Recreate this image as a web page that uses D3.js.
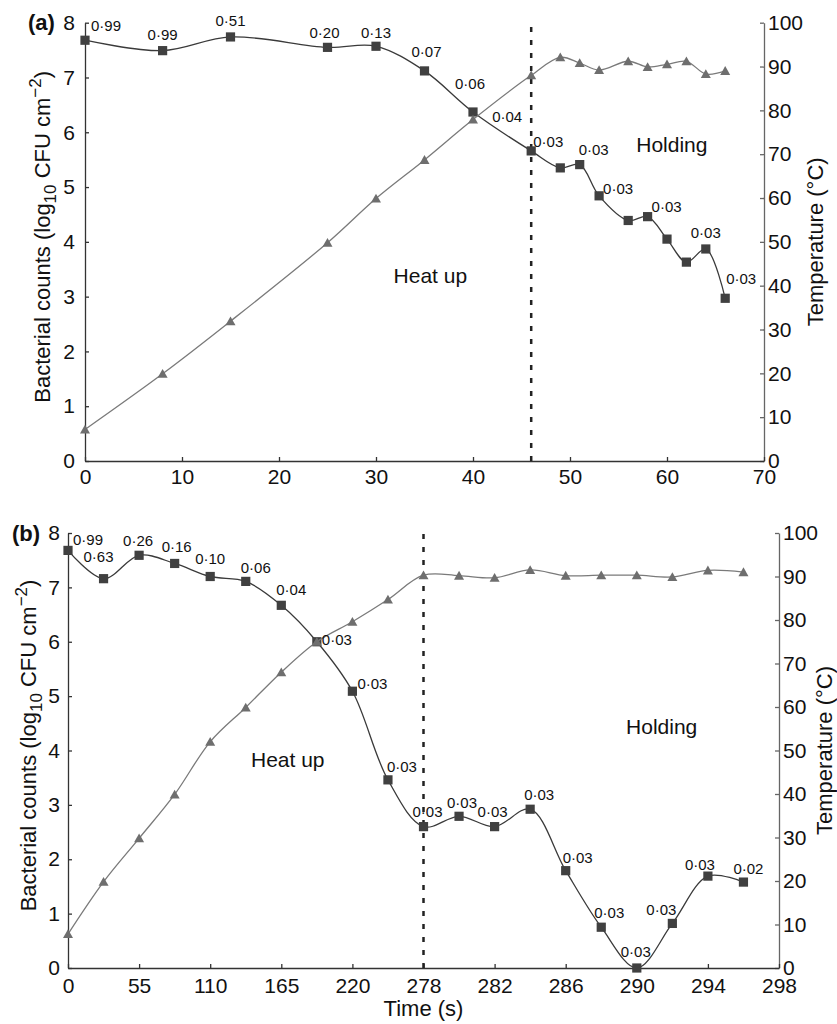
<!DOCTYPE html>
<html>
<head>
<meta charset="utf-8">
<script src="https://cdn.jsdelivr.net/npm/d3@7"></script>
<style>
  body { margin: 0; background: #fff; }
  svg { display: block; font-family: "Liberation Sans", Arial, sans-serif; }
</style>
</head>
<body>
<div id="chart"></div>
<script>
// ---- panel (a) data ----
var timeA = [0, 8, 15, 25, 30, 35, 40, 46, 49, 51, 53, 56, 58, 60, 62, 64, 66];
var countsA = [7.68, 7.49, 7.74, 7.55, 7.57, 7.12, 6.37, 5.66, 5.35, 5.41, 4.84, 4.39, 4.46, 4.05, 3.63, 3.87, 2.97];
var tempA = [7.2, 19.9, 31.9, 49.8, 59.9, 68.7, 77.9, 88.0, 92.1, 90.8, 89.2, 91.2, 89.9, 90.5, 91.2, 88.3, 89.0];
var seA = ["0·99", "0·99", "0·51", "0·20", "0·13", "0·07", "0·06", "0·04", "0·03", "0·03", "0·03", null, "0·03", null, null, "0·03", "0·03"];
var xTicksA = [0, 10, 20, 30, 40, 50, 60, 70];
var holdStartA = 46;

// ---- panel (b) data ----
var timeB = [0, 27.5, 55, 82.5, 110, 137.5, 165, 192.5, 220, 249, 278, 280, 282, 284, 286, 288, 290, 292, 294, 296];
var countsB = [7.68, 7.16, 7.59, 7.44, 7.20, 7.11, 6.67, 6.00, 5.09, 3.46, 2.60, 2.79, 2.60, 2.92, 1.79, 0.75, 0, 0.82, 1.69, 1.58];
var tempB = [7.8, 19.8, 29.8, 39.9, 52.0, 59.9, 68.0, 75.0, 79.6, 84.7, 90.3, 90.2, 89.7, 91.5, 90.2, 90.3, 90.3, 89.9, 91.4, 91.0];
var seB = ["0·99", "0·63", "0·26", "0·16", "0·10", "0·06", "0·04", "0·03", "0·03", "0·03", "0·03", "0·03", "0·03", "0·03", "0·03", "0·03", "0·03", "0·03", "0·03", "0·02"];
var xTicksB = [0, 55, 110, 165, 220, 278, 282, 286, 290, 294, 298];
var holdStartB = 278;

var countTicks = [0, 1, 2, 3, 4, 5, 6, 7, 8];
var tempTicks = [0, 10, 20, 30, 40, 50, 60, 70, 80, 90, 100];

// label offsets (px) from each square, kept apart from the data
var offA = [[21,-14],[0,-16],[0,-16],[-3,-15],[0,-14],[2,-19],[-3,-28],[-24,-34],[-12,-26],[14,-15],[19,-7],null,[19,-10],null,null,[0,-16],[16,-20]];
var offB = [[20,-11],[-5,-22],[-1,-15],[2,-17],[0,-18],[10,-14],[10,-16],[20,-2],[20,-7],[14,-13],[4,-15],[3,-14],[-2,-15],[9,-14],[12,-13],[8,-14],[-1,-16],[-11,-14],[-8,-11],[5,-13]];

var W = 837, H = 1024;

var svg = d3.select("#chart").append("svg")
    .attr("width", W)
    .attr("height", H);

function drawPanel(p) {
    var g = svg.append("g");

    var x = d3.scaleLinear().domain(p.xDomain).range(p.xRange);
    var yL = d3.scaleLinear().domain([0, 8]).range([p.bottom, p.top]);
    var yR = d3.scaleLinear().domain([0, 100]).range([p.bottom, p.top]);

    // axes
    var axL = g.append("g")
        .attr("transform", "translate(" + p.xRange[0] + ",0)")
        .call(d3.axisLeft(yL).tickValues(countTicks).tickSizeInner(-4).tickSizeOuter(0).tickPadding(p.padL));
    var axR = g.append("g")
        .attr("transform", "translate(" + p.xRange[p.xRange.length - 1] + ",0)")
        .call(d3.axisRight(yR).tickValues(tempTicks).tickSizeInner(-4).tickSizeOuter(0).tickPadding(4));
    var axB = g.append("g")
        .attr("transform", "translate(0," + p.bottom + ")")
        .call(d3.axisBottom(x).tickValues(p.xTicks).tickSizeInner(-4).tickSizeOuter(0).tickPadding(p.padB));

    [axL, axR, axB].forEach(function(a) {
        a.attr("font-family", null).attr("font-size", 21);
        a.selectAll("text").attr("fill", "#111");
    });
    axL.selectAll("path,line").attr("stroke", "#333").attr("stroke-width", 1.3);
    axB.selectAll("path,line").attr("stroke", "#333").attr("stroke-width", 1.3);
    axR.selectAll("path,line").attr("stroke", "#666").attr("stroke-width", 1.3);

    // holding start marker
    g.append("line")
        .attr("x1", x(p.holdStart)).attr("x2", x(p.holdStart))
        .attr("y1", p.bottom).attr("y2", p.top - 3)
        .attr("stroke", "#222")
        .attr("stroke-width", 2.5)
        .attr("stroke-dasharray", "5,8");

    var countPts = p.time.map(function(t, i) { return [x(t), yL(p.counts[i])]; });
    var tempPts = p.time.map(function(t, i) { return [x(t), yR(p.temp[i])]; });

    var line = d3.line().curve(d3.curveCatmullRom.alpha(0.5));

    g.append("path")
        .attr("d", line(countPts))
        .attr("fill", "none")
        .attr("stroke", "#3a3a3a")
        .attr("stroke-width", 1.3);

    g.selectAll(".sq").data(countPts).enter().append("rect")
        .attr("class", "sq")
        .attr("x", function(d) { return d[0] - 4.6; })
        .attr("y", function(d) { return d[1] - 4.6; })
        .attr("width", 9.2)
        .attr("height", 9.2)
        .attr("fill", "#404040");

    g.append("path")
        .attr("d", line(tempPts))
        .attr("fill", "none")
        .attr("stroke", "#7a7a7a")
        .attr("stroke-width", 1.3);

    g.selectAll(".tri").data(tempPts).enter().append("path")
        .attr("class", "tri")
        .attr("transform", function(d) { return "translate(" + d[0] + "," + d[1] + ")"; })
        .attr("d", "M0,-4.8L5,4L-5,4Z")
        .attr("fill", "#6e6e6e");

    // standard error labels
    g.selectAll(".se").data(countPts).enter().append("text")
        .attr("class", "se")
        .filter(function(d, i) { return p.se[i] != null; })
        .attr("x", function(d) { var i = countPts.indexOf(d); return d[0] + p.off[i][0]; })
        .attr("y", function(d) { var i = countPts.indexOf(d); return d[1] + p.off[i][1]; })
        .attr("dy", "0.35em")
        .attr("text-anchor", "middle")
        .attr("font-size", 15)
        .attr("fill", "#111")
        .text(function(d) { return p.se[countPts.indexOf(d)]; });

    // phase labels
    g.append("text")
        .attr("x", x(p.heatAt[0])).attr("y", yL(p.heatAt[1]))
        .attr("dy", "0.35em").attr("text-anchor", "middle")
        .attr("font-size", 21).attr("fill", "#111")
        .text("Heat up");
    g.append("text")
        .attr("x", x(p.holdAt[0])).attr("y", yL(p.holdAt[1]))
        .attr("dy", "0.35em").attr("text-anchor", "middle")
        .attr("font-size", 21).attr("fill", "#111")
        .text("Holding");

    // panel letter
    g.append("text")
        .attr("x", p.letterX).attr("y", p.top)
        .attr("dy", "0.35em")
        .attr("font-size", 22).attr("font-weight", "bold").attr("fill", "#111")
        .text(p.letter);

    // left title
    var midY = (p.top + p.bottom) / 2;
    var tl = g.append("text")
        .attr("transform", "translate(" + p.titleLX + "," + (midY - 5) + ") rotate(-90)")
        .attr("text-anchor", "middle")
        .attr("dy", "0.35em")
        .attr("font-size", 22).attr("fill", "#111");
    tl.append("tspan").text("Bacterial counts (log");
    tl.append("tspan").attr("font-size", 17).attr("dy", 6).text("10");
    tl.append("tspan").attr("dy", -6).text(" CFU cm");
    tl.append("tspan").attr("font-size", 17).attr("dy", -9).text("−2");
    tl.append("tspan").attr("dy", 9).text(")");

    // right title
    g.append("text")
        .attr("transform", "translate(" + p.titleRX + "," + midY + ") rotate(-90)")
        .attr("text-anchor", "middle")
        .attr("dy", "0.35em")
        .attr("font-size", 22).attr("fill", "#111")
        .text("Temperature (°C)");

    if (p.xTitle) {
        g.append("text")
            .attr("x", (p.xRange[0] + p.xRange[p.xRange.length - 1]) / 2)
            .attr("y", p.bottom + 40)
            .attr("dy", "0.35em")
            .attr("text-anchor", "middle")
            .attr("font-size", 22).attr("fill", "#111")
            .text(p.xTitle);
    }
}

var stepB = (779 - 68) / 10;

drawPanel({
    letter: "(a)", letterX: 28,
    time: timeA, counts: countsA, temp: tempA, se: seA, off: offA,
    xDomain: [0, 70], xRange: [85, 764], xTicks: xTicksA,
    top: 22.7, bottom: 461,
    padL: 10, padB: 8,
    holdStart: holdStartA,
    heatAt: [35.6, 3.39], holdAt: [60.5, 5.77],
    titleLX: 42, titleRX: 815
});

drawPanel({
    letter: "(b)", letterX: 12,
    time: timeB, counts: countsB, temp: tempB, se: seB, off: offB,
    xDomain: [0, 220, 278, 298], xRange: [68, 68 + 4 * stepB, 68 + 5 * stepB, 779], xTicks: xTicksB,
    top: 533, bottom: 968,
    padL: 8, padB: 10,
    holdStart: holdStartB,
    heatAt: [170, 3.84], holdAt: [291.4, 4.43],
    titleLX: 28, titleRX: 824,
    xTitle: "Time (s)"
});
</script>
</body>
</html>
